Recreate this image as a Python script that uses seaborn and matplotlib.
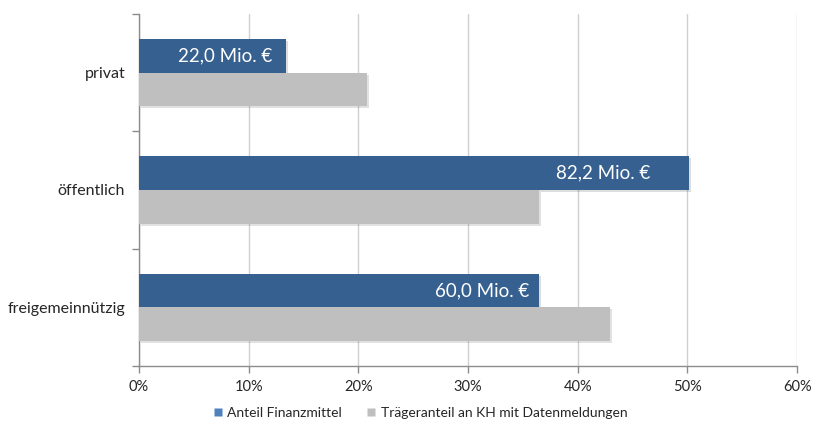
"""Anteil Finanzmittel vs. Trägeranteil nach Trägerschaft (horizontales Balkendiagramm)"""
import matplotlib
matplotlib.use("Agg")
import matplotlib.pyplot as plt
import matplotlib.patheffects as pe
from matplotlib.lines import Line2D
import seaborn as sns
import pandas as pd

# data
categories = ["privat", "öffentlich", "freigemeinnützig"]
series = ["Anteil Finanzmittel", "Trägeranteil an KH mit Datenmeldungen"]
anteil_finanzmittel = [13.4, 50.1, 36.5]
traegeranteil = [20.8, 36.5, 42.9]
bar_labels = ["22,0 Mio. €", "82,2 Mio. €", "60,0 Mio. €"]
label_offsets = [1.3, 3.5, 0.9]  # how far inside the bar end the label stops
x_ticks = [0, 10, 20, 30, 40, 50, 60]

bar_colors = ["#36608F", "#BFBFBF"]
legend_colors = ["#4F81BD", "#BFBFBF"]

df = pd.DataFrame({
    "Träger": categories * 2,
    "Wert": anteil_finanzmittel + traegeranteil,
    "Reihe": [series[0]] * 3 + [series[1]] * 3,
})

sns.set_theme(style="white")
plt.rcParams["font.family"] = ["Lato", "DejaVu Sans"]

fig = plt.figure(figsize=(8.14, 4.23), dpi=100)
ax = fig.add_axes([0.1708, 0.1348, 0.8085, 0.8322])

sns.barplot(data=df, x="Wert", y="Träger", hue="Reihe", order=categories,
            hue_order=series, palette=bar_colors, orient="h", width=0.575,
            gap=0, saturation=1, legend=False, ax=ax, zorder=3)

for bar in ax.patches:
    bar.set_edgecolor("none")
    bar.set_path_effects([pe.SimplePatchShadow(offset=(1.5, -1.5), alpha=0.15),
                          pe.Normal()])

# value labels inside the blue bars
for i, (val, lab, off) in enumerate(zip(anteil_finanzmittel, bar_labels, label_offsets)):
    ax.text(val - off, i - 0.14375, lab, ha="right", va="center",
            color="white", fontsize=13.5, zorder=5)

ax.set_xlim(0, 60)
ax.set_ylim(2.5, -0.5)
ax.set_xticks(x_ticks)
ax.set_xticklabels([f"{t}%" for t in x_ticks], fontsize=10.5)
ax.set_yticks(range(len(categories)))
ax.set_yticklabels(categories, fontsize=11.5)
ax.set_yticks([-0.5, 0.5, 1.5, 2.5], minor=True)
ax.tick_params(axis="y", which="major", length=0, pad=10)
ax.tick_params(axis="y", which="minor", length=5, color="#8C8C8C", width=1,
               left=True, direction="out")
ax.tick_params(axis="x", length=5, color="#8C8C8C", width=1, bottom=True,
               direction="out", pad=5)
ax.set_xlabel("")
ax.set_ylabel("")

ax.grid(axis="x", color="#D0D0D0", linewidth=1, zorder=0)
for side in ["top", "right"]:
    ax.spines[side].set_visible(False)
for side in ["left", "bottom"]:
    ax.spines[side].set_color("#8C8C8C")
    ax.spines[side].set_linewidth(1)

handles = [Line2D([], [], marker="s", linestyle="none", markersize=6,
                  markerfacecolor=c, markeredgecolor="none") for c in legend_colors]
fig.legend(handles, series, loc="center", bbox_to_anchor=(0.515, 0.024),
           ncol=2, frameon=False, fontsize=10, handletextpad=0.2,
           columnspacing=1.6, handlelength=1.0)

fig.savefig("out.png", dpi=100)
